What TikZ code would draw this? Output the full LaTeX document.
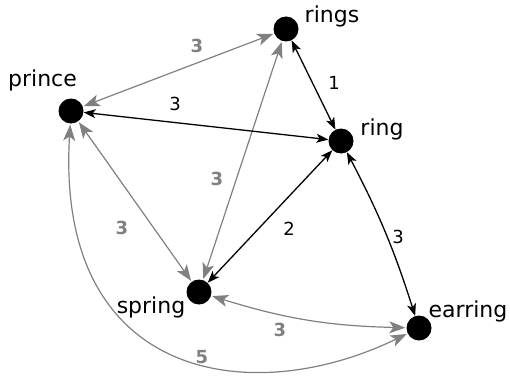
\documentclass[tikz,border=0pt]{standalone}
\usepackage{fontspec}
\setmainfont{DejaVu Sans}
\usetikzlibrary{arrows.meta}
\definecolor{edgegray}{RGB}{128,128,128}
\begin{document}
\begin{tikzpicture}[x=1pt,y=-1pt,
  vertex/.style={circle,fill=black,inner sep=0pt,minimum size=25pt},
  vlabel/.style={font=\fontsize{22}{26}\selectfont,inner sep=0pt,anchor=base},
  gtip/.tip={Stealth[length=16pt,width=12pt,inset=4pt]},
  btip/.tip={Stealth[length=12pt,width=9pt,inset=3pt]},
  graylink/.style={draw=edgegray,line width=1.2pt,gtip-gtip,shorten <=1pt,shorten >=1pt},
  blacklink/.style={draw=black,line width=1.3pt,btip-btip},
  glabel/.style={font=\fontsize{18}{20}\selectfont\bfseries,text=edgegray,inner sep=0pt},
  blabel/.style={font=\fontsize{18}{20}\selectfont,inner sep=0pt}]
\useasboundingbox (0,0) rectangle (510,377);
% vertices
\node[vertex] (prince) at (71,111) {};
\node[vertex] (rings) at (286,29) {};
\node[vertex] (ring) at (341,141) {};
\node[vertex] (spring) at (199,292) {};
\node[vertex] (earring) at (419,328) {};
% vertex labels
\node[vlabel] (lprince) at (42.5,87) {prince};
\node[vlabel] (lrings) at (332,23) {rings};
\node[vlabel] (lring) at (382,135) {ring};
\node[vlabel] (lspring) at (151,313) {spring};
\node[vlabel] (learring) at (468,317) {earring};
% gray edges
\draw[graylink] (prince) -- (rings);
\draw[graylink] (prince) -- (spring);
\draw[graylink] (rings) -- (spring);
\draw[graylink] (spring) to[bend right=8] (earring);
\draw[graylink] (prince) .. controls (55,380) and (250,410) .. (earring);
% black edges
\draw[blacklink] (prince) -- (ring);
\draw[blacklink] (rings) -- (ring);
\draw[blacklink] (ring) -- (spring);
\draw[blacklink] (ring) to[bend left=5] (earring);
% edge labels
\node[glabel] (w1) at (197,46) {3};
\node[blabel] (w2) at (175,104) {3};
\node[blabel] (w3) at (334,83) {1};
\node[glabel] (w4) at (217,179) {3};
\node[glabel] (w5) at (122,228) {3};
\node[blabel] (w6) at (289,229) {2};
\node[blabel] (w7) at (398,237) {3};
\node[glabel] (w8) at (280,330) {3};
\node[glabel] (w9) at (202,357) {5};
\end{tikzpicture}
\end{document}
